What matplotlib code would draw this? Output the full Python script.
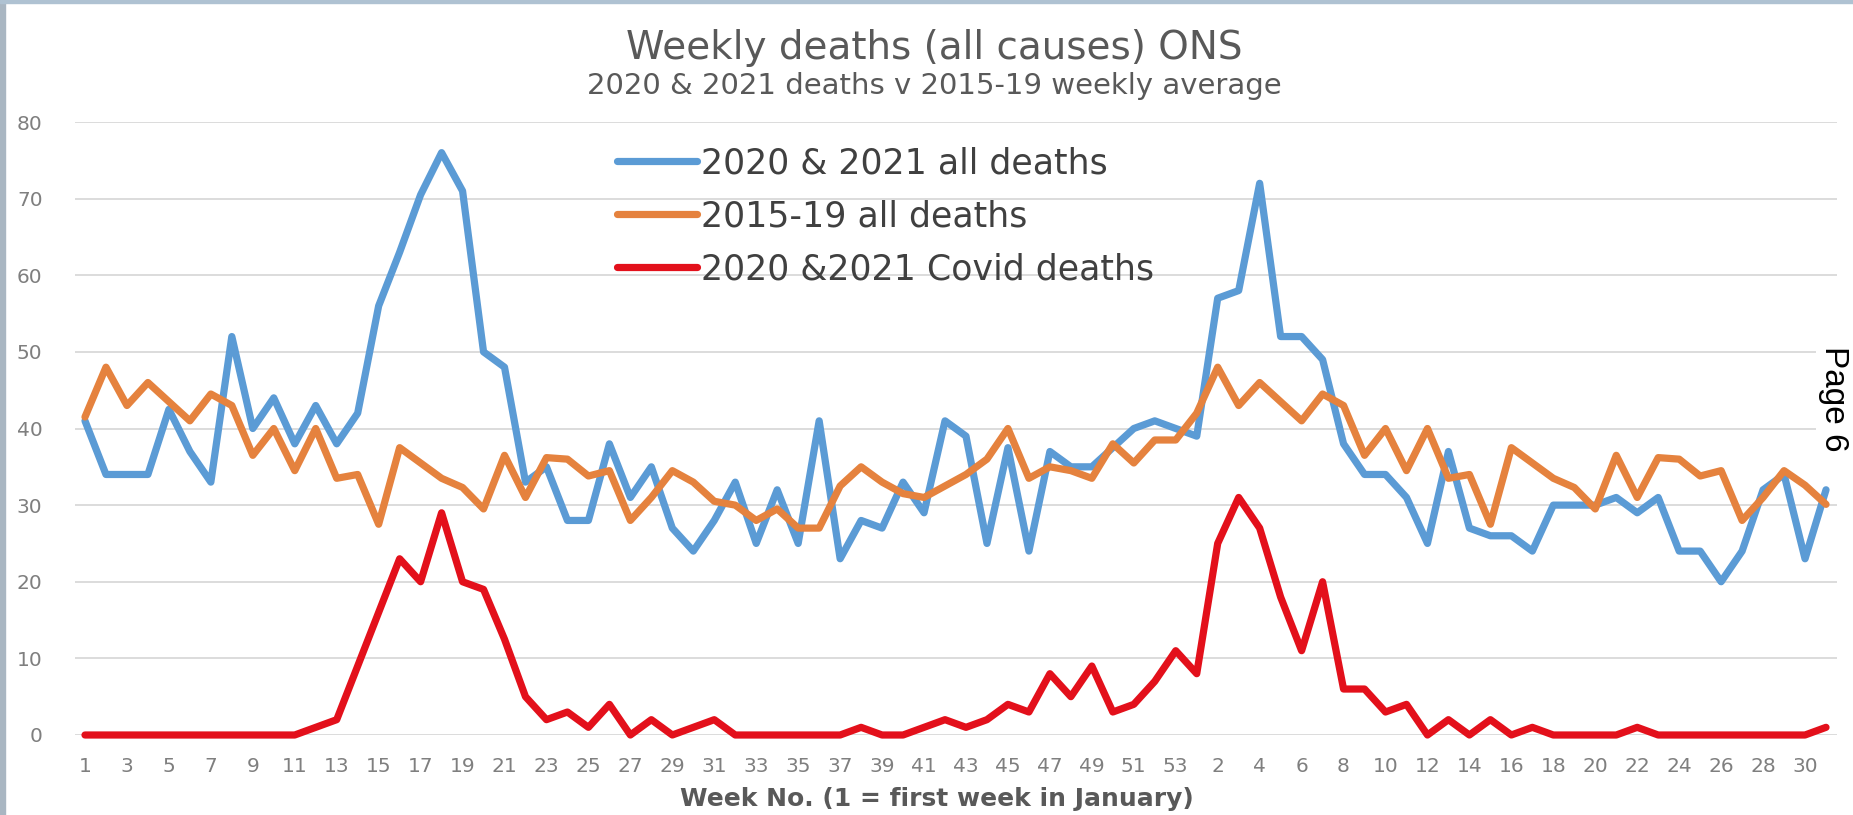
import matplotlib
matplotlib.use("Agg")
import matplotlib.pyplot as plt
import numpy as np

# week labels: 2020 has 53 weeks, then 2021 weeks 1-31
weeks_2020 = [str(w) for w in range(1, 54)]
weeks_2021 = [str(w) for w in range(1, 32)]
week_labels = weeks_2020 + weeks_2021

# 2020 & 2021 all deaths
all_deaths = [41, 34, 34, 34, 42.5, 37, 33, 52, 40, 44,
              38, 43, 38, 42, 56, 63, 70.5, 76, 71, 50,
              48, 33, 35, 28, 28, 38, 31, 35, 27, 24,
              28, 33, 25, 32, 25, 41, 23, 28, 27, 33,
              29, 41, 39, 25, 37.5, 24, 37, 35, 35, 37.5,
              40, 41, 40,
              39, 57, 58, 72, 52, 52, 49, 38, 34, 34,
              31, 25, 37, 27, 26, 26, 24, 30, 30, 30,
              31, 29, 31, 24, 24, 20, 24, 32, 34, 23,
              32]

# 2015-19 all deaths (weekly average)
avg_deaths = [41.5, 48, 43, 46, 43.5, 41, 44.5, 43, 36.5, 40,
              34.5, 40, 33.5, 34, 27.5, 37.5, 35.5, 33.5, 32.3, 29.5,
              36.5, 31, 36.2, 36, 33.8, 34.5, 28, 31, 34.5, 33,
              30.5, 30, 28, 29.5, 27, 27, 32.5, 35, 33, 31.5,
              31, 32.5, 34, 36, 40, 33.5, 35, 34.5, 33.5, 38,
              35.5, 38.5, 38.5,
              42, 48, 43, 46, 43.5, 41, 44.5, 43, 36.5, 40,
              34.5, 40, 33.5, 34, 27.5, 37.5, 35.5, 33.5, 32.3, 29.5,
              36.5, 31, 36.2, 36, 33.8, 34.5, 28, 31, 34.5, 32.6,
              30.1]

# 2020 & 2021 covid deaths
covid_deaths = [0, 0, 0, 0, 0, 0, 0, 0, 0, 0,
                0, 1, 2, 9, 16, 23, 20, 29, 20, 19,
                12.5, 5, 2, 3, 1, 4, 0, 2, 0, 1,
                2, 0, 0, 0, 0, 0, 0, 1, 0, 0,
                1, 2, 1, 2, 4, 3, 8, 5, 9, 3,
                4, 7, 11,
                8, 25, 31, 27, 18, 11, 20, 6, 6, 3,
                4, 0, 2, 0, 2, 0, 1, 0, 0, 0,
                0, 1, 0, 0, 0, 0, 0, 0, 0, 0,
                1]

series_names = ["2020 & 2021 all deaths", "2015-19 all deaths", "2020 &2021 Covid deaths"]
series_colors = ["#5B9BD5", "#E5823E", "#E3101B"]

W, H = 1853, 815
fig = plt.figure(figsize=(W / 100, H / 100), dpi=100)
fig.patch.set_facecolor("white")

# frame edges of the original screenshot
fig.patches.append(plt.Rectangle((0, 0), 5 / W, 1, transform=fig.transFigure,
                                 color="#A9B6C2", zorder=0))
fig.patches.append(plt.Rectangle((0, 1 - 3 / H), 1, 3 / H, transform=fig.transFigure,
                                 color="#AFC2D2", zorder=0))

ax = fig.add_axes([74.5 / W, (H - 735) / H, 1762 / W, 613 / H])
x = np.arange(len(week_labels))

for vals, name, col in zip([all_deaths, avg_deaths, covid_deaths], series_names, series_colors):
    ax.plot(x, vals, color=col, lw=5.2, label=name, clip_on=False,
            solid_joinstyle="round", solid_capstyle="round")

ax.set_xlim(-0.5, len(week_labels) - 0.5)
ax.set_ylim(0, 80)
ax.set_yticks(range(0, 81, 10))
ax.set_xticks(x[::2])
ax.set_xticklabels(week_labels[::2])
ax.grid(axis="y", color="#D9D9D9", lw=1.3)
ax.set_axisbelow(True)
for s in ax.spines.values():
    s.set_visible(False)
ax.tick_params(axis="both", length=0, labelsize=14.5, labelcolor="#7F7F7F")
ax.tick_params(axis="y", pad=23)
ax.tick_params(axis="x", pad=16)

leg = ax.legend(loc="upper left", bbox_to_anchor=((617 - 74.5) / 1762, (735 - 146) / 613),
                frameon=False, fontsize=25, handlelength=2.3, handletextpad=0.12,
                labelspacing=0.55, borderpad=0, borderaxespad=0)
for t in leg.get_texts():
    t.set_color("#404040")

fig.text(934 / W, 1 - 48 / H, "Weekly deaths (all causes) ONS", ha="center", va="center",
         fontsize=28, color="#595959", family="DejaVu Sans")
fig.text(934 / W, 1 - 86 / H, "2020 & 2021 deaths v 2015-19 weekly average", ha="center",
         va="center", fontsize=21, color="#595959", family="DejaVu Sans")
fig.text(937 / W, 1 - 799 / H, "Week No. (1 = first week in January)", ha="center",
         va="center", fontsize=18, color="#595959", family="DejaVu Sans", weight="bold")

fig.text(1834 / W, 1 - 399 / H, "Page 6", rotation=-90, ha="center", va="center",
         fontsize=24, color="black", family="Liberation Sans",
         bbox=dict(facecolor="white", edgecolor="none", pad=2))

fig.savefig("out.png", dpi=100)
